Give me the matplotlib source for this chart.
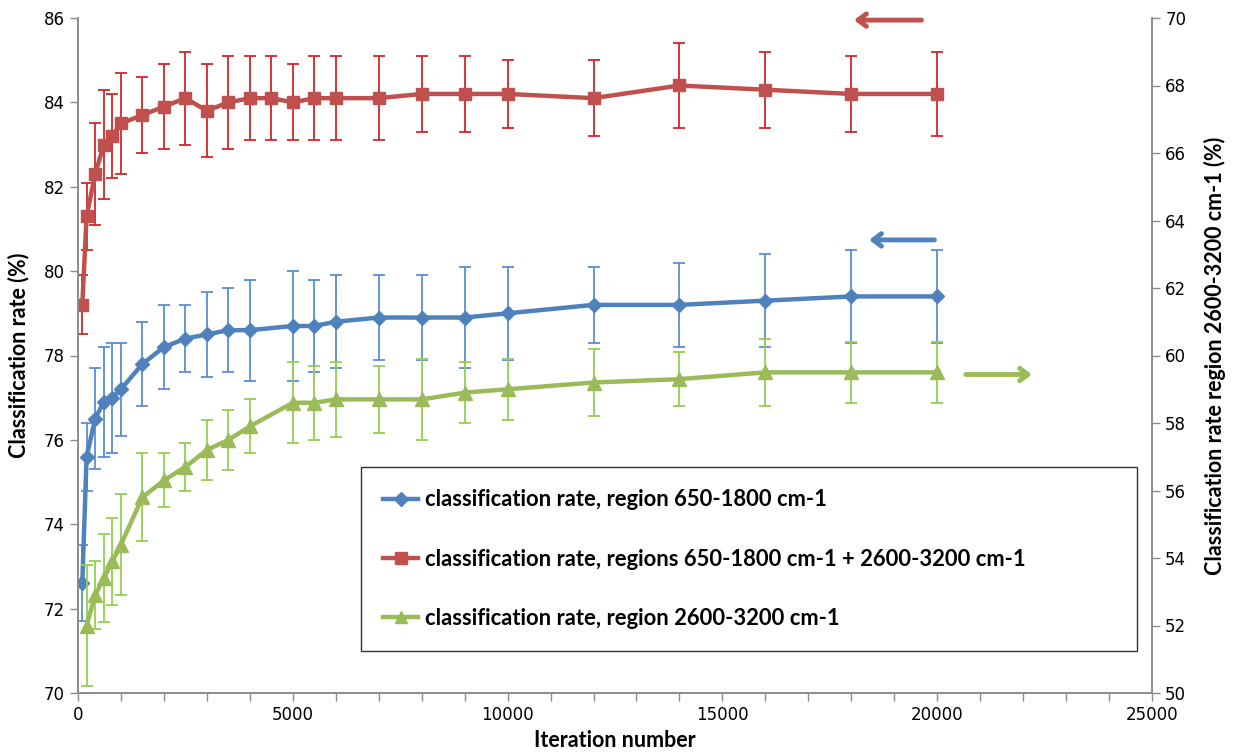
import matplotlib
matplotlib.use("Agg")
import matplotlib.pyplot as plt
from matplotlib.ticker import MultipleLocator
from matplotlib.lines import Line2D

# iteration numbers (blue and green have no point at 4500, green none at 100)
iters = [100, 200, 400, 600, 800, 1000, 1500, 2000, 2500, 3000, 3500, 4000, 4500,
         5000, 5500, 6000, 7000, 8000, 9000, 10000, 12000, 14000, 16000, 18000, 20000]
iters_blue = [v for v in iters if v != 4500]
iters_green = [v for v in iters_blue if v != 100]

rate_both = [79.2, 81.3, 82.3, 83.0, 83.2, 83.5, 83.7, 83.9, 84.1, 83.8, 84.0, 84.1, 84.1,
             84.0, 84.1, 84.1, 84.1, 84.2, 84.2, 84.2, 84.1, 84.4, 84.3, 84.2, 84.2]
err_both = [0.7, 0.8, 1.2, 1.3, 1.0, 1.2, 0.9, 1.0, 1.1, 1.1, 1.1, 1.0, 1.0,
            0.9, 1.0, 1.0, 1.0, 0.9, 0.9, 0.8, 0.9, 1.0, 0.9, 0.9, 1.0]

rate_650 = [72.6, 75.6, 76.5, 76.9, 77.0, 77.2, 77.8, 78.2, 78.4, 78.5, 78.6, 78.6,
            78.7, 78.7, 78.8, 78.9, 78.9, 78.9, 79.0, 79.2, 79.2, 79.3, 79.4, 79.4]
err_650 = [0.9, 0.8, 1.2, 1.3, 1.3, 1.1, 1.0, 1.0, 0.8, 1.0, 1.0, 1.2,
           1.3, 1.1, 1.1, 1.0, 1.0, 1.2, 1.1, 0.9, 1.0, 1.1, 1.1, 1.1]

rate_2600 = [52.0, 52.9, 53.4, 53.9, 54.4, 55.8, 56.3, 56.7, 57.2, 57.5, 57.9,
             58.6, 58.6, 58.7, 58.7, 58.7, 58.9, 59.0, 59.2, 59.3, 59.5, 59.5, 59.5]
err_2600 = [1.8, 1.0, 1.3, 1.3, 1.5, 1.3, 0.8, 0.7, 0.9, 0.9, 0.8,
            1.2, 1.1, 1.1, 1.0, 1.2, 0.9, 0.9, 1.0, 0.8, 1.0, 0.9, 0.9]

labels = ["classification rate, region 650-1800 cm-1",
          "classification rate, regions 650-1800 cm-1 + 2600-3200 cm-1",
          "classification rate, region 2600-3200 cm-1"]

BLUE, BLUE_ERR = "#4F81BD", "#5B8ED0"
RED, RED_ERR = "#C0504D", "#D02828"
GREEN, GREEN_ERR = "#9BBB59", "#92D050"
AXIS = "#8C8C8C"

fig = plt.figure(figsize=(12.33, 7.53), dpi=100)
ax = fig.add_axes([78 / 1233, 1 - 693 / 753, (1152 - 78) / 1233, 675 / 753])
ax2 = ax.twinx()

ax.errorbar(iters_blue, rate_650, yerr=err_650, color=BLUE, lw=3.2, marker="D", ms=7.5,
            ecolor=BLUE_ERR, elinewidth=1.3, capsize=4, capthick=1.3, zorder=3)
ax.errorbar(iters, rate_both, yerr=err_both, color=RED, lw=3.2, marker="s", ms=8.5,
            ecolor=RED_ERR, elinewidth=1.3, capsize=4, capthick=1.3, zorder=4)
ax2.errorbar(iters_green, rate_2600, yerr=err_2600, color=GREEN, lw=3.2, marker="^", ms=9.5,
             ecolor=GREEN_ERR, elinewidth=1.3, capsize=4, capthick=1.3, zorder=3)

ax.set_xlim(0, 25000)
ax.set_ylim(70, 86)
ax2.set_ylim(50, 70)
ax.xaxis.set_major_locator(MultipleLocator(5000))
ax.xaxis.set_minor_locator(MultipleLocator(1000))
ax.yaxis.set_major_locator(MultipleLocator(2))
ax2.yaxis.set_major_locator(MultipleLocator(2))

for a in (ax, ax2):
    a.spines["top"].set_visible(False)
    for s in ("left", "right", "bottom"):
        a.spines[s].set_color(AXIS)
        a.spines[s].set_linewidth(1.2)
    a.tick_params(which="both", direction="out", length=6, width=1, color=AXIS,
                  labelsize=12, labelcolor="black")
ax.tick_params(axis="x", which="minor", length=6)

lab_font = dict(family="Lato", weight="bold", size=15.5)
ax.set_xlabel("Iteration number", labelpad=4, **lab_font)
ax.set_ylabel("Classification rate (%)", labelpad=10, **lab_font)
ax2.set_ylabel("Classification rate region 2600-3200 cm-1 (%)", rotation=90, labelpad=13, **lab_font)

# arrows telling which axis each series belongs to
arrow = dict(arrowstyle="->,head_length=0.6,head_width=0.45", lw=3.5)
ax.annotate("", xy=(18000, 85.95), xytext=(19700, 85.95),
            arrowprops=dict(color=RED, **arrow), annotation_clip=False)
ax.annotate("", xy=(18350, 80.74), xytext=(20000, 80.74),
            arrowprops=dict(color=BLUE, **arrow))
ax.annotate("", xy=(22270, 77.55), xytext=(20600, 77.55),
            arrowprops=dict(color=GREEN, **arrow))

handles = [Line2D([], [], color=BLUE, lw=3.2, marker="D", ms=7),
           Line2D([], [], color=RED, lw=3.2, marker="s", ms=8.5),
           Line2D([], [], color=GREEN, lw=3.2, marker="^", ms=9)]
leg = ax2.legend(handles, labels, loc="lower left", bbox_to_anchor=(361 / 1233, 102 / 753, 776 / 1233, 186 / 753),
                 bbox_transform=fig.transFigure, mode="expand", fancybox=False, frameon=True,
                 prop=dict(family="Lato", weight="bold", size=15.8), labelspacing=1.75,
                 handlelength=1.6, handletextpad=0.3, borderpad=1.0, borderaxespad=0)
leg.get_frame().set_edgecolor("black")
leg.get_frame().set_linewidth(1.0)
leg.set_zorder(10)

fig.savefig("out.png", dpi=100)
